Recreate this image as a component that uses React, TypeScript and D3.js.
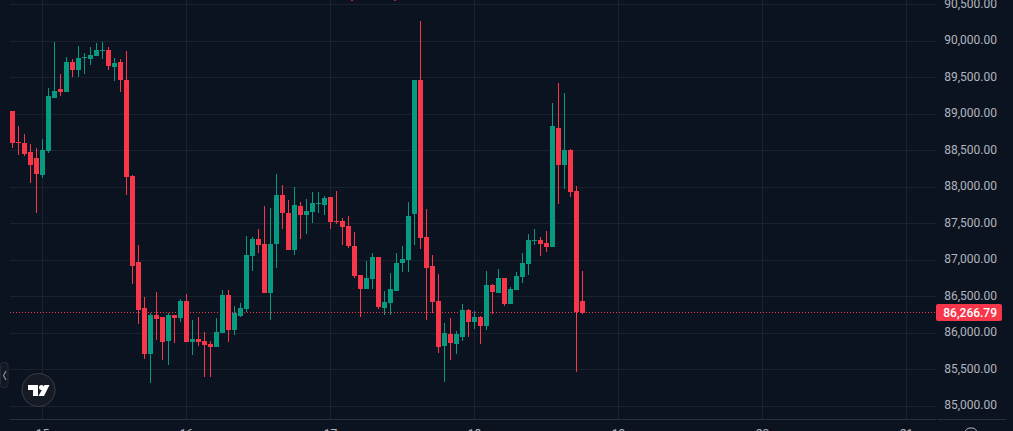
import React from 'react';
import * as d3 from 'd3';

// 30 minute candles
const opens = [
  89038, 88613, 88600, 88476, 88394, 88161, 88490, 89216, 89340, 89298, 89710, 89600, 89764, 89751, 89792, 89860,
  89874, 89641, 89710, 89463, 88148, 86969, 86339, 85709, 86243, 86216, 85887, 86243, 86202, 86435, 85873, 85914,
  85887, 85846, 85805, 85997, 86517, 86038, 86229, 86325, 87051, 87284, 87216, 86545, 87216, 87887, 87641, 87134,
  87737, 87613, 87654, 87764, 87750, 87860, 87531, 87531, 87463, 87189, 86791, 86599, 86736, 87038, 86339, 86408,
  86572, 86956, 86997, 87627, 89463, 87312, 86914, 86435, 85818, 85983, 85846, 85942, 86312, 86147, 86216, 86092,
  86654, 86545, 86750, 86394, 86586, 86764, 86942, 87257, 87271, 87230, 87175, 88805, 88298, 88504, 87942, 86435,
];
const highs = [
  89038, 88833, 88723, 88586, 88531, 88655, 89353, 89984, 89545, 89778, 89751, 89929, 89833, 89915, 89970, 89984,
  89915, 89764, 89751, 89860, 88161, 87202, 86490, 86271, 86558, 86216, 86271, 86243, 86462, 86531, 86175, 86216,
  86010, 85887, 86202, 86586, 86586, 86366, 86408, 87326, 87312, 87421, 87737, 87709, 88175, 88024, 87819, 87997,
  87791, 87832, 87928, 87928, 87874, 87860, 87942, 87572, 87600, 87380, 86791, 86983, 87093, 87038, 86572, 86819,
  87093, 87189, 87791, 89463, 90271, 87695, 87065, 86805, 86133, 86202, 86024, 86394, 86325, 86298, 86229, 86846,
  86668, 86873, 86750, 86627, 86832, 87093, 87353, 87421, 87312, 87394, 89148, 89422, 89285, 88518, 88011, 86846,
];
const lows = [
  88531, 88435, 88422, 88052, 87641, 88120, 88463, 89216, 89244, 89298, 89504, 89504, 89545, 89668, 89792, 89751,
  89600, 89449, 89298, 87887, 86668, 86120, 85640, 85312, 85901, 85627, 85558, 85860, 86147, 85873, 85695, 85818,
  85394, 85394, 85805, 85997, 85873, 85969, 86216, 86284, 86846, 87093, 86545, 86175, 86887, 87421, 87134, 87065,
  87284, 87353, 87504, 87641, 87613, 87421, 87490, 87202, 87161, 86750, 86216, 86599, 86599, 86325, 86243, 86243,
  86572, 86832, 86832, 87202, 87147, 86175, 86271, 85722, 85325, 85627, 85709, 85887, 85942, 86051, 85846, 86038,
  86257, 86545, 86366, 86394, 86586, 86682, 86791, 87202, 87051, 87106, 87175, 87764, 87969, 87860, 85462, 86257,
];
const closes = [
  88600, 88600, 88449, 88298, 88175, 88504, 89244, 89312, 89298, 89710, 89600, 89764, 89778, 89805, 89874, 89874,
  89655, 89696, 89463, 88134, 86914, 86312, 85709, 86243, 86188, 85873, 86243, 86202, 86435, 85873, 85914, 85873,
  85832, 85805, 86010, 86517, 86038, 86271, 86339, 87065, 87284, 87202, 86545, 87216, 87887, 87641, 87134, 87750,
  87613, 87668, 87778, 87778, 87846, 87517, 87517, 87449, 87189, 86777, 86599, 86750, 87038, 86353, 86421, 86599,
  86956, 87010, 87600, 89463, 87298, 86887, 86421, 85805, 85997, 85860, 85983, 86312, 86147, 86216, 86092, 86654,
  86558, 86750, 86394, 86599, 86777, 86956, 87271, 87271, 87216, 87175, 88833, 88298, 88504, 87928, 86284, 86266.79,
];

const priceTicks = [85000, 85500, 86000, 86500, 87000, 87500, 88000, 88500, 89000, 89500, 90000, 90500];
const dayLabels = ['15', '16', '17', '18', '19', '20', '21'];
const dayCandles = [5, 29, 53, 77, 101, 125, 149];
const lastPrice = 86266.79;
// bits of a marker cut off by the top edge
const cutMarkers = [56.4, 63.6];

const width = 1013;
const height = 431;
const plot = { left: 10, right: 936, bottom: 419 };

const bg = '#0c1320';
const gridColor = '#1b222f';
const up = '#089981';
const down = '#f7364a';
const axisText = '#b2b5be';
const font = "Roboto, 'Noto Sans', sans-serif";

const x = d3.scaleLinear().domain([0, 95]).range([12.5, 582.5]);
const y = d3.scaleLinear().domain([85000, 90500]).range([405.8, 4.3]);
const fmt = d3.format(',.2f');
const snap = (v: number) => Math.round(v);

const App = () => {
  return (
    <svg
      width={width}
      height={height}
      style={{ position: 'fixed', left: 0, top: 0, display: 'block', background: bg }}
    >
      <g stroke={gridColor} shapeRendering="crispEdges">
        {priceTicks.map((t) => (
          <line key={t} x1={plot.left} x2={plot.right} y1={snap(y(t)) + 0.5} y2={snap(y(t)) + 0.5} />
        ))}
        {dayCandles.map((c) => (
          <line key={c} x1={snap(x(c) - 0.5) + 0.5} x2={snap(x(c) - 0.5) + 0.5} y1={0} y2={plot.bottom} />
        ))}
      </g>

      <line
        x1={plot.left}
        x2={plot.right}
        y1={snap(y(lastPrice)) - 0.5}
        y2={snap(y(lastPrice)) - 0.5}
        stroke={down}
        strokeDasharray="1 2"
        shapeRendering="crispEdges"
      />

      <g shapeRendering="crispEdges">
        {opens.map((o, i) => {
          const c = closes[i];
          const color = c >= o ? up : down;
          const top = snap(y(Math.max(o, c)));
          const bottom = snap(y(Math.min(o, c)));
          const cx = x(i);
          return (
            <g key={i} fill={color}>
              <rect x={cx - 0.5} width={1} y={snap(y(highs[i]))} height={snap(y(lows[i])) - snap(y(highs[i]))} />
              <rect x={cx - 2.5} width={5} y={top} height={Math.max(1, bottom - top)} />
            </g>
          );
        })}
        {cutMarkers.map((c) => (
          <rect key={c} x={snap(x(c))} y={0} width={2} height={1} fill="#b3243a" />
        ))}
      </g>

      {/* axes */}
      <g shapeRendering="crispEdges" stroke="#2a303c">
        <line x1={plot.left} x2={plot.right} y1={plot.bottom + 0.5} y2={plot.bottom + 0.5} />
        <line x1={plot.right + 1} x2={1006} y1={plot.bottom + 0.5} y2={plot.bottom + 0.5} />
      </g>
      <g fill={axisText} fontFamily={font} fontSize={12}>
        {priceTicks.map((t) => (
          <text key={t} x={997} y={y(t) + 3.3} textAnchor="end">
            {fmt(t)}
          </text>
        ))}
        {dayLabels.map((d, i) => (
          <text key={d} x={x(dayCandles[i])} y={438} textAnchor="middle">
            {d}
          </text>
        ))}
      </g>
      <rect x={965} y={428} width={12} height={12} rx={5} fill="none" stroke={axisText} />

      <rect x={936} y={304} width={66} height={17} rx={2} fill={down} />
      <text
        x={997}
        y={y(lastPrice) + 3.3}
        textAnchor="end"
        fill="#fff"
        fontFamily={font}
        fontSize={12}
        fontWeight={500}
      >
        {fmt(lastPrice)}
      </text>

      {/* side handle */}
      <rect x={0.5} y={362.5} width={7.5} height={25} rx={3} fill="#131824" stroke="#252b37" />
      <path d="M6 371 L3.5 375.5 L6 380" fill="none" stroke="#8a8f9a" strokeWidth={1.2} />

      {/* logo */}
      <circle cx={38.5} cy={390} r={16.5} fill="#161a24" stroke="#3a3e48" strokeWidth={1} />
      <g fill="#fff">
        <path d="M28 385 H38 V396 H33 V390 H28 Z" />
        <circle cx={41.5} cy={387.5} r={2.5} />
        <path d="M44.5 385 H49.5 L44 396 H38.5 Z" />
      </g>
    </svg>
  );
};

export default App;
